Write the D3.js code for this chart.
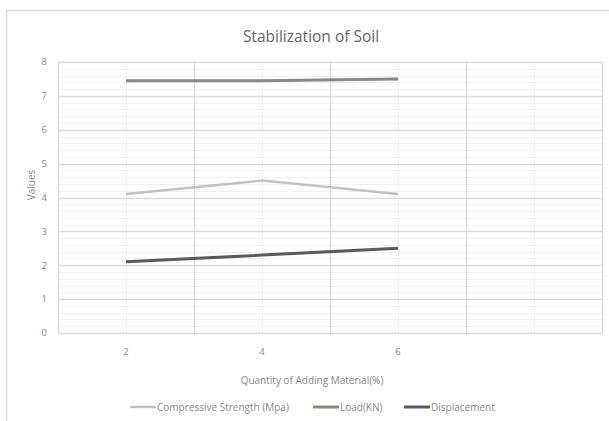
<!DOCTYPE html>
<html><head><meta charset="utf-8">
<script src="https://cdn.jsdelivr.net/npm/d3@7"></script>
<style>
html,body{margin:0;padding:0;background:#fff;}
svg{display:block;font-family:"Open Sans","Noto Sans",sans-serif;}
</style></head>
<body><svg id="c" width="609" height="421"></svg>
<script>
const categories = ["2", "4", "6", ""];
const compressiveStrength = [4.1, 4.5, 4.1];
const load = [7.45, 7.45, 7.5];
const displacement = [2.1, 2.3, 2.5];
const yTicks = [0, 1, 2, 3, 4, 5, 6, 7, 8];
const seriesNames = ["Compressive Strength (Mpa)", "Load(KN)", "Displacement"];
const seriesColors = ["#c2c2c2", "#868c7a", "#5a5a5a"];
const seriesWidths = [2.5, 3, 3];
const series = [compressiveStrength, load, displacement];

const svg = d3.select("#c");
const L = 58, R = 602, T = 62, B = 333;

// outer chart border (top and left visible)
svg.append("path").attr("d", "M6.5,421 V10.5 H609").attr("fill","none").attr("stroke","#dcdcdc").attr("stroke-width",1.5);

const x = d3.scaleBand().domain(categories.map((c,i)=>i)).range([L, R]).padding(0);
const y = d3.scaleLinear().domain([0, 8]).range([B, T]);

// minor horizontal gridlines
const minor = d3.range(0, 8.0001, 0.2).filter(v => Math.abs(v - Math.round(v)) > 1e-6);
svg.append("g").selectAll("line").data(minor).join("line")
  .attr("x1", L).attr("x2", R)
  .attr("y1", d => Math.round(y(d)) + 0.5).attr("y2", d => Math.round(y(d)) + 0.5)
  .attr("stroke", "#f0f0f0").attr("stroke-width", 1);

// minor vertical gridlines at category centers
svg.append("g").selectAll("line").data(categories.map((c,i)=>i)).join("line")
  .attr("x1", d => Math.round(x(d) + x.bandwidth()/2) + 0.5).attr("x2", d => Math.round(x(d) + x.bandwidth()/2) + 0.5)
  .attr("y1", T).attr("y2", B)
  .attr("stroke", "#f0f0f0").attr("stroke-width", 1);

// major horizontal gridlines
svg.append("g").selectAll("line").data(yTicks).join("line")
  .attr("x1", L).attr("x2", R)
  .attr("y1", d => Math.round(y(d)) + 0.5).attr("y2", d => Math.round(y(d)) + 0.5)
  .attr("stroke", "#dcdcdc").attr("stroke-width", 1.3);

// major vertical gridlines at category boundaries
const bounds = categories.map((c,i)=>x(i)).concat([R]);
svg.append("g").selectAll("line").data(bounds).join("line")
  .attr("x1", d => Math.round(d) + 0.5).attr("x2", d => Math.round(d) + 0.5)
  .attr("y1", T).attr("y2", B)
  .attr("stroke", "#dcdcdc").attr("stroke-width", 1.3);

// y tick labels
svg.append("g").selectAll("text").data(yTicks).join("text")
  .attr("x", L - 11).attr("y", d => y(d)).attr("dy", "0.35em")
  .attr("text-anchor", "end").attr("font-size", 9.5).attr("fill", "#8a8a8a")
  .text(d => d);

// x tick labels
svg.append("g").selectAll("text").data(categories).join("text")
  .attr("x", (d,i) => x(i) + x.bandwidth()/2).attr("y", 352).attr("dy", "0.35em")
  .attr("text-anchor", "middle").attr("font-size", 9.5).attr("fill", "#8a8a8a")
  .text(d => d);

// title
svg.append("text").attr("x", 311).attr("y", 37).attr("dy","0.35em").attr("text-anchor","middle")
  .attr("font-size", 15.5).attr("fill", "#666666").text("Stabilization of Soil");

// axis titles
svg.append("text").attr("x", 312).attr("y", 380).attr("dy","0.35em").attr("text-anchor","middle")
  .attr("font-size", 10).attr("fill", "#8a8a8a").text("Quantity of Adding Material(%)");
svg.append("text").attr("transform", "translate(31,185) rotate(-90)").attr("dy","0.35em").attr("text-anchor","middle")
  .attr("font-size", 10).attr("fill", "#8a8a8a").text("Values");

// lines
const line = d3.line().x((d,i) => x(i) + x.bandwidth()/2).y(d => y(d));
series.forEach((s, k) => {
  svg.append("path").datum(s).attr("d", line).attr("fill", "none")
    .attr("stroke", seriesColors[k]).attr("stroke-width", seriesWidths[k])
    .attr("stroke-linejoin", "round");
});

// legend
const legX = [130, 313, 404];
seriesNames.forEach((n, k) => {
  const g = svg.append("g").attr("transform", `translate(${legX[k]},407)`);
  g.append("line").attr("x1", 0).attr("x2", 26).attr("y1", 0).attr("y2", 0)
    .attr("stroke", seriesColors[k]).attr("stroke-width", seriesWidths[k]);
  g.append("text").attr("x", 27).attr("y", 0).attr("dy", "0.35em").attr("font-size", 10)
    .attr("fill", "#8a8a8a").text(n);
});
</script></body></html>
